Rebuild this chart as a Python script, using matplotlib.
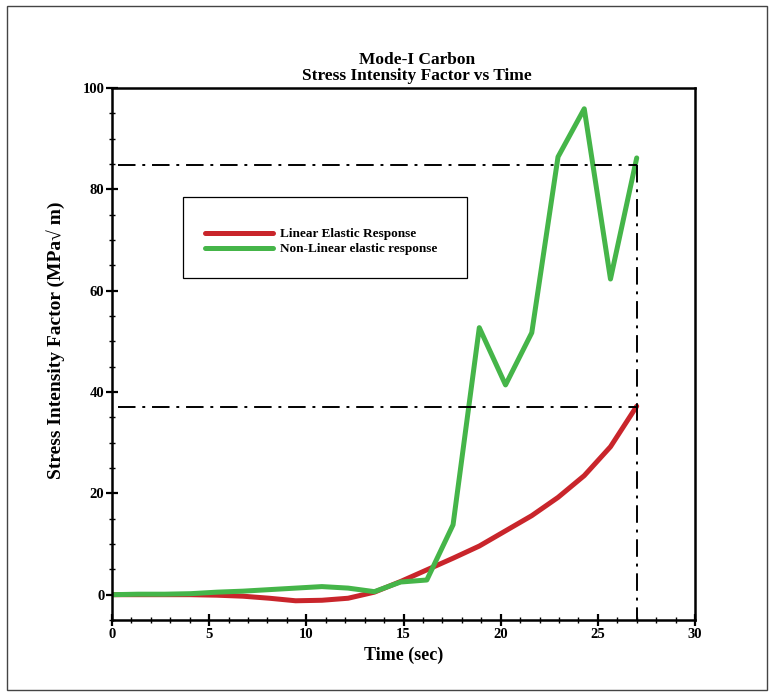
import numpy as np
import matplotlib
matplotlib.use("Agg")
import matplotlib.pyplot as plt
from matplotlib.patches import Rectangle
from matplotlib.ticker import MultipleLocator

plt.rcParams['font.family'] = ['Liberation Serif', 'DejaVu Serif']
plt.rcParams['font.weight'] = 'bold'

# time samples (sec)
time = [0, 1.35, 2.7, 4.05, 5.4, 6.75, 8.1, 9.45, 10.8, 12.15, 13.5,
        14.85, 16.2, 17.55, 18.9, 20.25, 21.6, 22.95, 24.3, 25.65, 27.0]
linear = [0, 0, 0, 0, -0.1, -0.3, -0.7, -1.2, -1.1, -0.7, 0.5,
          2.6, 4.9, 7.2, 9.6, 12.6, 15.6, 19.2, 23.5, 29.2, 37.2]
nonlinear = [0, 0.1, 0.1, 0.2, 0.5, 0.7, 1.0, 1.3, 1.6, 1.3, 0.6,
             2.5, 2.9, 13.8, 52.7, 41.4, 51.7, 86.4, 95.9, 62.3, 86.2]
labels = ['Linear Elastic Response', 'Non-Linear elastic response']

# reference lines
x_mark = 27.0
y_marks = [84.8, 37.1]

fig = plt.figure(figsize=(7.75, 6.93), dpi=100)
ax = fig.add_axes([0.1445, 0.1053, 0.7523, 0.7677])

ax.plot(time, linear, color='#c9252b', lw=3.6, label=labels[0], solid_capstyle='round')
ax.plot(time, nonlinear, color='#45b549', lw=3.6, label=labels[1], solid_capstyle='round')

dd = (0, (9, 3.5, 1.5, 3.5))
for y in y_marks:
    ax.plot([0.3, x_mark], [y, y], color='black', lw=1.4, linestyle=dd)
ax.plot([x_mark, x_mark], [y_marks[0], -5], color='black', lw=1.4, linestyle=dd)

ax.set_xlim(0, 30)
ax.set_ylim(-5, 100)
ax.xaxis.set_major_locator(MultipleLocator(5))
ax.xaxis.set_minor_locator(MultipleLocator(1))
ax.yaxis.set_major_locator(MultipleLocator(20))
ax.yaxis.set_minor_locator(MultipleLocator(5))
ax.tick_params(which='major', direction='inout', length=9, width=1.6, labelsize=10.5)
ax.tick_params(which='minor', direction='inout', length=5, width=1.0)
ax.tick_params(axis='x', pad=1)
ax.tick_params(axis='y', pad=1)
for lab in ax.get_xticklabels() + ax.get_yticklabels():
    lab.set_fontweight('bold')
for s in ax.spines.values():
    s.set_linewidth(1.8)

ax.set_xlabel('Time (sec)', fontsize=13, fontweight='bold', labelpad=4)
ax.set_ylabel('Stress Intensity Factor (MPa\u221a m)', fontsize=14, fontweight='bold')
ax.yaxis.set_label_coords(-0.08, 0.5 + 14 / 532)

fig.text(417 / 775, 1 - 60 / 693, 'Mode-I Carbon', ha='center', va='center',
         fontsize=12.5, fontweight='bold')
fig.text(417 / 775, 1 - 76 / 693, 'Stress Intensity Factor vs Time', ha='center', va='center',
         fontsize=12.5, fontweight='bold')

# legend box drawn separately, legend entries placed inside it
ax.add_patch(Rectangle((0.122, 0.643), 0.487, 0.152, transform=ax.transAxes,
                       facecolor='white', edgecolor='black', lw=0.9, zorder=5))
leg = ax.legend(loc='center left', bbox_to_anchor=(0.16, 0.711), frameon=False,
                fontsize=9.5, handlelength=5.1, handletextpad=0.6, borderpad=0,
                borderaxespad=0, labelspacing=0.2)
leg.set_zorder(6)
for t in leg.get_texts():
    t.set_fontweight('bold')

fig.patches.append(Rectangle((7 / 775, 1 - 690 / 693), 760 / 775, 684 / 693,
                             transform=fig.transFigure, fill=False,
                             edgecolor='#444444', lw=1.0))

fig.savefig('out.png', dpi=100)
